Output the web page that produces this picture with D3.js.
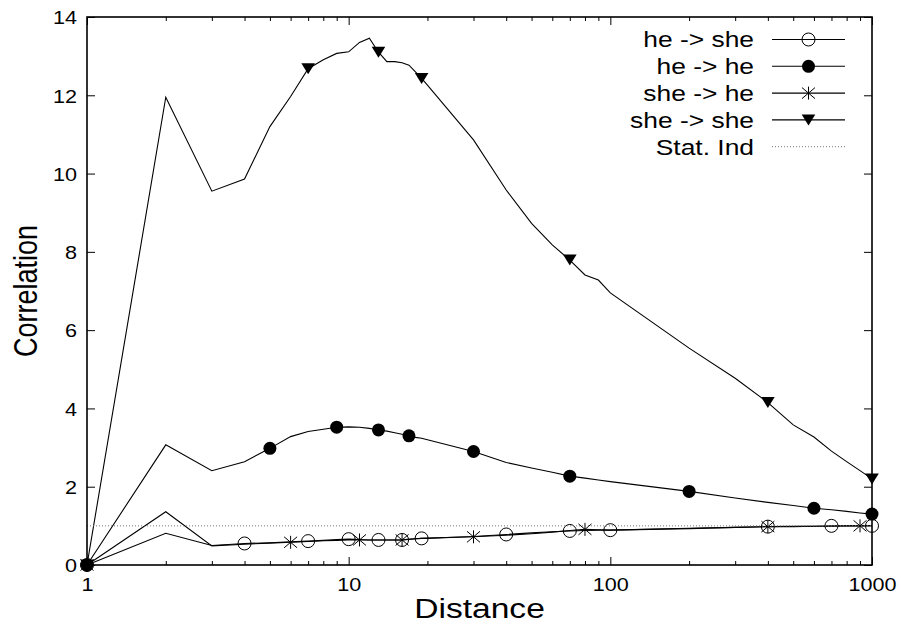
<!DOCTYPE html>
<html>
<head>
<meta charset="utf-8">
<script src="https://cdn.jsdelivr.net/npm/d3@7"></script>
<style>
    body { margin: 0; background: #fff; }
    svg { display: block; font-family: "Liberation Sans", Arial, Helvetica, sans-serif; }
</style>
</head>
<body>
<svg width="901" height="626"></svg>
<script>
const width = 901;
const height = 626;
const plotLeft = 87;
const plotRight = 872;
const plotTop = 17;
const plotBottom = 565;
const textStretch = 1.2; // the original text is drawn wider than it is tall

// distances (x values)
const distances = [1, 2, 3, 4, 5, 6, 7, 8, 9, 10, 11, 12, 13, 14, 15, 16, 17, 18, 19, 20,
    30, 40, 50, 60, 70, 80, 90, 100, 200, 300, 400, 500, 600, 700, 800, 900, 1000];

const heShe = [0, 0.81, 0.50, 0.55, 0.57, 0.59, 0.61, 0.63, 0.65, 0.66, 0.65, 0.64, 0.64, 0.64, 0.64, 0.64, 0.65, 0.67, 0.68, 0.68,
    0.73, 0.78, 0.82, 0.85, 0.87, 0.88, 0.89, 0.89, 0.93, 0.96, 0.98, 0.99, 0.99, 1.00, 1.00, 1.00, 1.00];

const heHe = [0, 3.07, 2.41, 2.64, 2.98, 3.28, 3.41, 3.47, 3.52, 3.53, 3.52, 3.49, 3.45, 3.42, 3.38, 3.34, 3.30, 3.26, 3.24, 3.20,
    2.90, 2.62, 2.48, 2.37, 2.27, 2.22, 2.17, 2.13, 1.88, 1.71, 1.60, 1.52, 1.45, 1.41, 1.37, 1.33, 1.30];

const sheHe = [0, 1.36, 0.49, 0.53, 0.56, 0.58, 0.60, 0.62, 0.63, 0.64, 0.64, 0.64, 0.64, 0.64, 0.64, 0.64, 0.66, 0.67, 0.68, 0.69,
    0.72, 0.76, 0.80, 0.84, 0.88, 0.91, 0.90, 0.89, 0.94, 0.96, 0.98, 0.98, 0.99, 0.99, 1.00, 1.00, 1.01];

const sheShe = [0, 11.95, 9.55, 9.86, 11.2, 11.97, 12.68, 12.91, 13.07, 13.11, 13.35, 13.46, 13.1, 12.86, 12.86, 12.83, 12.77, 12.6, 12.43, 12.26,
    10.86, 9.58, 8.73, 8.18, 7.79, 7.41, 7.28, 6.95, 5.54, 4.77, 4.15, 3.58, 3.27, 2.91, 2.64, 2.41, 2.2];

const statInd = 1;

const seriesNames = ["he -> she", "he -> he", "she -> he", "she -> she"];
const seriesValues = [heShe, heHe, sheHe, sheShe];
const seriesMarkers = ["openCircle", "filledCircle", "star", "triangleDown"];
const pointIntervals = [3, 4, 5, 6];

const xMajorTicks = [1, 10, 100, 1000];
const xMinorTicks = [2, 3, 4, 5, 6, 7, 8, 9, 20, 30, 40, 50, 60, 70, 80, 90, 200, 300, 400, 500, 600, 700, 800, 900];
const yTicks = [0, 2, 4, 6, 8, 10, 12, 14];

const svg = d3.select("svg");

const x = d3.scaleLog().domain([1, 1000]).range([plotLeft, plotRight]);
const y = d3.scaleLinear().domain([0, 14]).range([plotBottom, plotTop]);

function drawMarker(g, type) {
    if (type === "openCircle") {
        g.append("circle").attr("r", 6.5).attr("fill", "none").attr("stroke", "#000").attr("stroke-width", 1);
    } else if (type === "filledCircle") {
        g.append("circle").attr("r", 6.5).attr("fill", "#000");
    } else if (type === "star") {
        g.append("path")
            .attr("d", "M0,-6.5L0,6.5M-6.5,-5.5L6.5,5.5M-6.5,5.5L6.5,-5.5")
            .attr("fill", "none").attr("stroke", "#000").attr("stroke-width", 1);
    } else if (type === "triangleDown") {
        g.append("path")
            .attr("d", "M-6.8,-5.5L6.8,-5.5L0,5.5Z")
            .attr("fill", "#000");
    }
}

// axes: major ticks inside, minor ticks inside and shorter
const tickFont = "18px";

const bottomAxis = svg.append("g")
    .attr("transform", `translate(0,${plotBottom})`)
    .call(d3.axisBottom(x).tickValues(xMajorTicks).tickFormat(d3.format("d")).tickSizeInner(-8).tickSizeOuter(0).tickPadding(13));
bottomAxis.select(".domain").remove();
bottomAxis.selectAll("text")
    .style("font-size", tickFont)
    .attr("fill", "#000")
    .attr("transform", `scale(${textStretch},1)`);

const bottomMinor = svg.append("g")
    .attr("transform", `translate(0,${plotBottom})`)
    .call(d3.axisBottom(x).tickValues(xMinorTicks).tickFormat("").tickSizeInner(-4).tickSizeOuter(0));
bottomMinor.select(".domain").remove();

const topAxis = svg.append("g")
    .attr("transform", `translate(0,${plotTop})`)
    .call(d3.axisTop(x).tickValues(xMajorTicks).tickFormat("").tickSizeInner(-8).tickSizeOuter(0));
topAxis.select(".domain").remove();

const topMinor = svg.append("g")
    .attr("transform", `translate(0,${plotTop})`)
    .call(d3.axisTop(x).tickValues(xMinorTicks).tickFormat("").tickSizeInner(-4).tickSizeOuter(0));
topMinor.select(".domain").remove();

const leftAxis = svg.append("g")
    .attr("transform", `translate(${plotLeft},0)`)
    .call(d3.axisLeft(y).tickValues(yTicks).tickSizeInner(-8).tickSizeOuter(0).tickPadding(10));
leftAxis.select(".domain").remove();
leftAxis.selectAll("text")
    .style("font-size", tickFont)
    .attr("fill", "#000")
    .attr("x", 0)
    .attr("dy", "0.38em")
    .attr("transform", `translate(-10,0) scale(${textStretch},1)`);

const rightAxis = svg.append("g")
    .attr("transform", `translate(${plotRight},0)`)
    .call(d3.axisRight(y).tickValues(yTicks).tickFormat("").tickSizeInner(-8).tickSizeOuter(0));
rightAxis.select(".domain").remove();

svg.selectAll(".tick line").attr("stroke", "#000").attr("stroke-width", 1);

// series
const line = d3.line()
    .x((d, i) => x(distances[i]))
    .y(d => y(d));

seriesValues.forEach((values, s) => {
    svg.append("path")
        .datum(values)
        .attr("d", line)
        .attr("fill", "none")
        .attr("stroke", "#000")
        .attr("stroke-width", 1.1);

    values.forEach((v, i) => {
        if (i % pointIntervals[s] !== 0) return;
        const g = svg.append("g").attr("transform", `translate(${x(distances[i])},${y(v)})`);
        drawMarker(g, seriesMarkers[s]);
    });
});

// statistical independence line
svg.append("line")
    .attr("x1", x(1))
    .attr("x2", x(1000))
    .attr("y1", y(statInd))
    .attr("y2", y(statInd))
    .attr("stroke", "#777")
    .attr("stroke-width", 1)
    .attr("stroke-dasharray", "1,2");

// border
svg.append("rect")
    .attr("x", plotLeft)
    .attr("y", plotTop)
    .attr("width", plotRight - plotLeft)
    .attr("height", plotBottom - plotTop)
    .attr("fill", "none")
    .attr("stroke", "#000")
    .attr("stroke-width", 1.6);

// axis labels
svg.append("text")
    .attr("transform", `translate(${(plotLeft + plotRight) / 2},618) scale(${textStretch},1)`)
    .attr("text-anchor", "middle")
    .style("font-size", "28px")
    .text("Distance");

svg.append("text")
    .attr("transform", `translate(37,${(plotTop + plotBottom) / 2}) rotate(-90) scale(1,${textStretch})`)
    .attr("text-anchor", "middle")
    .style("font-size", "27px")
    .text("Correlation");

// legend
const legendTextX = 754;
const legendLineX1 = 772;
const legendLineX2 = 845;
const legendTop = 39.5;
const legendRowHeight = 26.8;

const legend = svg.append("g");

seriesNames.concat(["Stat. Ind"]).forEach((name, i) => {
    const rowY = legendTop + i * legendRowHeight;
    legend.append("text")
        .attr("transform", `translate(${legendTextX},${rowY}) scale(${textStretch},1)`)
        .attr("dy", "0.36em")
        .attr("text-anchor", "end")
        .style("font-size", "22px")
        .text(name);

    const sample = legend.append("line")
        .attr("x1", legendLineX1)
        .attr("x2", legendLineX2)
        .attr("y1", rowY)
        .attr("y2", rowY);

    if (i < seriesNames.length) {
        sample.attr("stroke", "#000").attr("stroke-width", 1.1);
        const g = legend.append("g").attr("transform", `translate(${(legendLineX1 + legendLineX2) / 2},${rowY})`);
        drawMarker(g, seriesMarkers[i]);
    } else {
        sample.attr("stroke", "#777").attr("stroke-width", 1).attr("stroke-dasharray", "1,2");
    }
});
</script>
</body>
</html>
